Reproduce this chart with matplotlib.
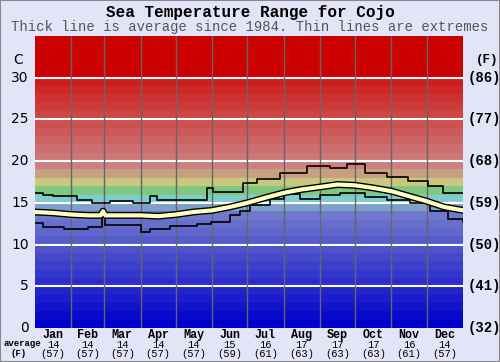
import matplotlib.pyplot as plt
import matplotlib.patheffects as pe
import numpy as np

# data (day of year -> degrees C)
avg_days = [0, 15, 31, 45, 56, 58, 60, 74, 90, 105, 120, 135, 151, 166, 181,
            196, 212, 227, 243, 258, 273, 288, 304, 319, 334, 349, 365]
avg_c = [13.9, 13.8, 13.6, 13.5, 13.5, 14.0, 13.5, 13.5, 13.5, 13.4, 13.6, 13.9, 14.1,
         14.5, 15.0, 15.6, 16.2, 16.6, 16.9, 17.2, 17.1, 16.8, 16.4, 15.8, 15.2, 14.5, 14.1]

max_days = [0, 7, 15, 36, 49, 64, 84, 98, 104, 115, 147, 152, 177, 189, 209,
            232, 252, 266, 281, 300, 318, 335, 348, 365]
max_c = [16.2, 16.0, 15.8, 15.4, 15.0, 15.2, 15.0, 15.8, 15.3, 15.4, 16.8, 16.3, 17.4,
         17.8, 18.6, 19.4, 19.2, 19.6, 18.6, 18.1, 17.6, 17.0, 16.2, 16.2]

min_days = [0, 7, 25, 45, 57, 60, 90, 98, 115, 138, 150, 166, 175, 183, 200, 212,
            226, 243, 260, 281, 300, 320, 337, 352, 365]
min_c = [12.6, 12.1, 11.9, 12.1, 14.0, 12.4, 11.5, 11.9, 12.2, 12.5, 12.7, 13.5, 14.0,
         14.7, 15.5, 16.1, 15.5, 16.0, 16.2, 15.7, 15.3, 15.0, 14.0, 13.1, 12.7]

months = ['Jan', 'Feb', 'Mar', 'Apr', 'May', 'Jun', 'Jul', 'Aug', 'Sep', 'Oct', 'Nov', 'Dec']
month_len = [31, 28, 31, 30, 31, 30, 31, 31, 30, 31, 30, 31]
month_avg_c = [14, 14, 14, 14, 14, 15, 16, 17, 17, 17, 16, 14]
month_avg_f = [57, 57, 57, 57, 57, 59, 61, 63, 63, 63, 61, 57]
c_ticks = [0, 5, 10, 15, 20, 25, 30]
f_ticks = [32, 41, 50, 59, 68, 77, 86]

bg = '#e4e4f8'
mono = 'Liberation Mono'

fig = plt.figure(figsize=(5, 3.62), dpi=100, facecolor=bg)
ax = fig.add_axes([35/500, 34/362, 428/500, 292/362])
ax.set_xlim(0, 365)
ax.set_ylim(0, 35)
ax.axis('off')

# 1-degree colour bands
def band_color(t):
    if t <= 13:
        f = t / 13
        return (f*112/255, f*120/255, 0.8)
    special = {14: (128, 160, 204), 15: (128, 204, 204), 16: (128, 200, 128),
               17: (200, 200, 128), 18: (200, 160, 128), 19: (204, 128, 128)}
    if t in special:
        r, g, b = special[t]
        return (r/255, g/255, b/255)
    if t >= 30:
        return (0.8, 0, 0)
    f = (t - 20) / 10
    v = (120 - f*100) / 255
    return (0.8, v, v)

for t in range(35):
    ax.axhspan(t, t + 1, color=band_color(t), lw=0)

for c in c_ticks[1:]:
    ax.axhline(c, color='white', lw=1.5)

edges = np.concatenate([[0], np.cumsum(month_len)])
for e in edges[1:-1]:
    ax.axvline(e, color='#666666', lw=1)

ax.plot(max_days, max_c, color='black', lw=1.2, drawstyle='steps-post')
ax.plot(min_days, min_c, color='black', lw=1.2, drawstyle='steps-post')
ax.plot(avg_days, avg_c, color='#ffffc0', lw=3,
        path_effects=[pe.Stroke(linewidth=5, foreground='black'), pe.Normal()])

# axis labels
tr = ax.get_yaxis_transform()
for c, f in zip(c_ticks, f_ticks):
    ax.text(-0.015, c, str(c), transform=tr, ha='right', va='center', fontsize=10,
            family='DejaVu Sans')
    ax.text(1.01, c, '(%d)' % f, transform=tr, ha='left', va='center', fontsize=10,
            family=mono, fontweight='bold')
ax.text(-0.04, 32.1, 'C', transform=tr, ha='center', va='center', fontsize=10,
        family='DejaVu Sans')
ax.text(1.03, 32.1, '(F)', transform=tr, ha='left', va='center', fontsize=9,
        family=mono, fontweight='bold')

mids = (edges[:-1] + edges[1:]) / 2
for m, x, ac, af in zip(months, mids, month_avg_c, month_avg_f):
    ax.text(x, -0.85, m, ha='center', va='center', fontsize=8.5, family=mono,
            fontweight='bold')
    ax.text(x, -2.0, str(ac), ha='center', va='center', fontsize=7.5, family=mono)
    ax.text(x, -3.1, '(%d)' % af, ha='center', va='center', fontsize=7.5, family=mono)
fig.text(22/500, 1 - 344/362, 'average', ha='center', va='center', fontsize=6.5,
         family=mono, fontweight='bold')
fig.text(19/500, 1 - 354/362, '(F)', ha='center', va='center', fontsize=6.5,
         family=mono, fontweight='bold')

fig.text(0.5, 1 - 12/362, 'Sea Temperature Range for Cojo', ha='center', va='center',
         fontsize=11.5, family=mono, fontweight='bold')
fig.text(0.5, 1 - 27/362, 'Thick line is average since 1984. Thin lines are extremes',
         ha='center', va='center', fontsize=10, family=mono, color='#555555')

fig.patches.append(plt.Rectangle((0, 0), 1, 1, transform=fig.transFigure, fill=False,
                                 edgecolor='#888888', lw=1.5))

fig.savefig('out.png', dpi=100, facecolor=bg)
